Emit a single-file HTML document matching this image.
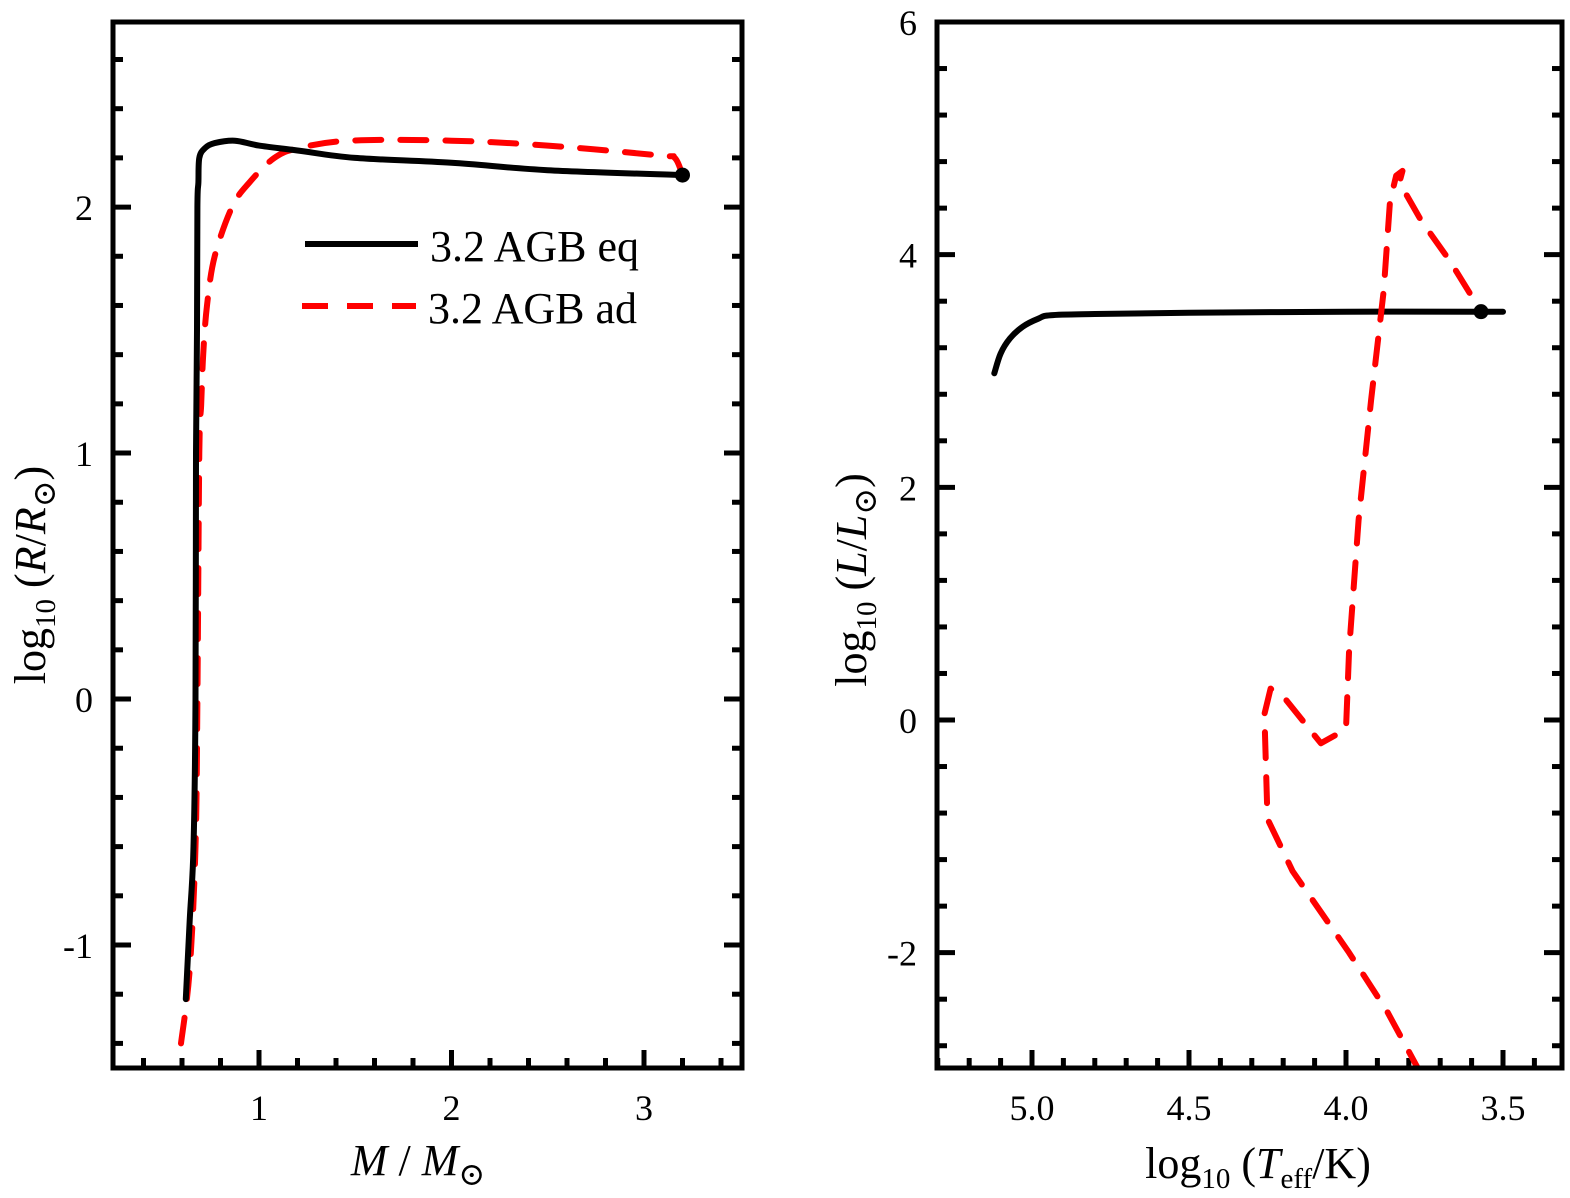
<!DOCTYPE html>
<html><head><meta charset="utf-8"><style>
html,body{margin:0;padding:0;background:#fff;}
svg{display:block;font-family:"Liberation Serif","DejaVu Serif",serif;}
</style></head><body>
<svg id="fig" width="1570" height="1198" viewBox="0 0 1570 1198">
<g id="left"></g>
<g id="right"></g>
<g>
  <line x1="305" y1="244" x2="418" y2="244" stroke="#000" stroke-width="6"/>
  <text x="430" y="261" font-size="44">3.2 AGB eq</text>
  <line x1="302" y1="306" x2="416" y2="306" stroke="#f00" stroke-width="6" stroke-dasharray="26,19"/>
  <text x="428" y="323" font-size="44">3.2 AGB ad</text>
</g>
<text x="418" y="1175" font-size="44" text-anchor="middle"><tspan font-style="italic">M</tspan> / <tspan font-style="italic">M</tspan><tspan font-size="32" dy="10">⊙</tspan></text>
<text transform="translate(45,575) rotate(-90)" font-size="44" text-anchor="middle">log<tspan font-size="29" dy="10">10</tspan><tspan dy="-10"> (</tspan><tspan font-style="italic">R</tspan>/<tspan font-style="italic">R</tspan><tspan font-size="32" dy="10">⊙</tspan><tspan dy="-10">)</tspan></text>
<text x="1258" y="1178" font-size="44" text-anchor="middle">log<tspan font-size="29" dy="10">10</tspan><tspan dy="-10"> (</tspan><tspan font-style="italic">T</tspan><tspan font-size="29" dy="10">eff</tspan><tspan dy="-10">/K)</tspan></text>
<text transform="translate(866,580) rotate(-90)" font-size="44" text-anchor="middle">log<tspan font-size="29" dy="10">10</tspan><tspan dy="-10"> (</tspan><tspan font-style="italic">L</tspan>/<tspan font-style="italic">L</tspan><tspan font-size="32" dy="10">⊙</tspan><tspan dy="-10">)</tspan></text>
</svg>
<script>
// ---- Left panel data ----
const leftEqMass = [0.62,0.64,0.66,0.67,0.673,0.678,0.68,0.685,0.69,0.72,0.77,0.875,1.0,1.2,1.5,2.0,2.5,3.2];
const leftEqLogR = [-1.22,-0.9,-0.6,0.0,1.0,1.5,2.0,2.1,2.2,2.24,2.26,2.27,2.25,2.23,2.2,2.18,2.15,2.13];
const leftAdMass = [0.595,0.64,0.67,0.68,0.69,0.70,0.71,0.73,0.77,0.86,0.95,1.08,1.21,1.47,2.0,2.5,3.08,3.16,3.2];
const leftAdLogR = [-1.40,-1.1,-0.6,0.0,1.0,1.2,1.4,1.6,1.8,2.0,2.1,2.2,2.24,2.27,2.27,2.25,2.21,2.2,2.13];
const leftXTicks = ["1","2","3"];
const leftYTicks = ["-1","0","1","2"];
// ---- Right panel data ----
const rightEqLogT = [5.12,5.10,5.07,5.03,4.98,4.94,4.8,4.5,4.0,3.57,3.50];
const rightEqLogL = [2.98,3.15,3.28,3.38,3.45,3.48,3.49,3.5,3.51,3.51,3.51];
const rightAdLogT = [3.76,3.87,3.99,4.17,4.25,4.26,4.24,4.19,4.08,4.00,3.99,3.96,3.92,3.88,3.86,3.84,3.82,3.83,3.76,3.67,3.59,3.57];
const rightAdLogL = [-3.05,-2.5,-2.0,-1.3,-0.85,0.05,0.27,0.17,-0.2,-0.08,0.6,1.72,2.75,3.69,4.46,4.68,4.72,4.62,4.29,3.95,3.6,3.51];
const rightXTicks = ["5.0","4.5","4.0","3.5"];
const rightYTicks = ["-2","0","2","4","6"];

const NS="http://www.w3.org/2000/svg";
function mk(tag,attrs,parent){const e=document.createElementNS(NS,tag);for(const k in attrs)e.setAttribute(k,attrs[k]);parent.appendChild(e);return e;}
function smoothPath(P){
  let d="M"+P[0][0].toFixed(1)+","+P[0][1].toFixed(1);
  for(let i=0;i<P.length-1;i++){
    const p0=P[Math.max(0,i-1)],p1=P[i],p2=P[i+1],p3=P[Math.min(P.length-1,i+2)];
    const c1=[p1[0]+(p2[0]-p0[0])/6,p1[1]+(p2[1]-p0[1])/6];
    const c2=[p2[0]-(p3[0]-p1[0])/6,p2[1]-(p3[1]-p1[1])/6];
    d+="C"+c1.map(v=>v.toFixed(1)).join(",")+" "+c2.map(v=>v.toFixed(1)).join(",")+" "+p2.map(v=>v.toFixed(1)).join(",");
  }
  return d;
}
function panel(g,box,xd,yd,opts){
  const sx=v=>box.x0+(v-xd[0])/(xd[1]-xd[0])*(box.x1-box.x0);
  const sy=v=>box.y1-(v-yd[0])/(yd[1]-yd[0])*(box.y1-box.y0);
  const clipId=opts.id+"-clip";
  const cp=mk("clipPath",{id:clipId},g);
  mk("rect",{x:box.x0,y:box.y0,width:box.x1-box.x0,height:box.y1-box.y0},cp);
  const eps=1e-6;
  const xlo=Math.min(xd[0],xd[1]),xhi=Math.max(xd[0],xd[1]);
  for(let i=Math.ceil(xlo/opts.xminor-eps);i*opts.xminor<=xhi+eps;i++){
    const v=i*opts.xminor;const major=Math.abs(v/opts.xmajor-Math.round(v/opts.xmajor))<1e-6;
    const L=major?18:10;const x=sx(v);
    let t=mk("line",{x1:x,y1:box.y1,x2:x,y2:box.y1-L,stroke:"#000","stroke-width":5},g);
    
    
  }
  for(let i=Math.ceil(yd[0]/opts.yminor-eps);i*opts.yminor<=yd[1]+eps;i++){
    const v=i*opts.yminor;const major=Math.abs(v/opts.ymajor-Math.round(v/opts.ymajor))<1e-6;
    const L=major?18:10;const y=sy(v);
    let a=mk("line",{x1:box.x0,y1:y,x2:box.x0+L,y2:y,stroke:"#000","stroke-width":5},g);
    
    
    let b=mk("line",{x1:box.x1,y1:y,x2:box.x1-L,y2:y,stroke:"#000","stroke-width":5},g);
    
    
  }
  opts.xlabels.forEach(s=>{const t=mk("text",{x:sx(parseFloat(s)),y:box.y1+52,"font-size":36,"text-anchor":"middle"},g);t.textContent=s;
    
    });
  opts.ylabels.forEach(s=>{const t=mk("text",{x:box.x0-20,y:sy(parseFloat(s))+13,"font-size":36,"text-anchor":"end"},g);t.textContent=s;
    
    });
  const cg=mk("g",{"clip-path":"url(#"+clipId+")"},g);
  opts.series.forEach(s=>{
    const P=s.x.map((v,i)=>[sx(v),sy(s.y[i])]);
    const d=s.smooth?smoothPath(P):P.map((p,i)=>(i?"L":"M")+p[0].toFixed(1)+","+p[1].toFixed(1)).join("");
    const p=mk("path",{d:d,fill:"none",stroke:s.color,"stroke-width":6,"stroke-linejoin":"round","stroke-linecap":"round"},cg);
    if(s.dash)p.setAttribute("stroke-dasharray",s.dash);
    
    
  });
  const dot=opts.dot;
  const c=mk("circle",{cx:sx(dot[0]),cy:sy(dot[1]),r:7.5,fill:"#000"},g);
  
  
  const fr=mk("rect",{x:box.x0,y:box.y0,width:box.x1-box.x0,height:box.y1-box.y0,fill:"none",stroke:"#000","stroke-width":5},g);
  
  
}
panel(document.getElementById("left"),{x0:113,x1:742,y0:22,y1:1068},[0.2416,3.5091],[-1.5,2.7524],
  {id:"L",xminor:0.2,xmajor:1,yminor:0.2,ymajor:1,xlabels:leftXTicks,ylabels:leftYTicks,dot:[3.2,2.13],
   series:[{x:leftAdMass,y:leftAdLogR,color:"#f00",dash:"26,19",name:"series-ad-radius",smooth:true},{x:leftEqMass,y:leftEqLogR,color:"#000",name:"series-eq-radius",smooth:true}]});
panel(document.getElementById("right"),{x0:937,x1:1562,y0:22,y1:1068},[5.3025,3.3121],[-2.9914,6],
  {id:"R",xminor:0.1,xmajor:0.5,yminor:0.4,ymajor:2,xlabels:rightXTicks,ylabels:rightYTicks,dot:[3.57,3.51],
   series:[{x:rightEqLogT,y:rightEqLogL,color:"#000",name:"series-eq-hr",smooth:true},{x:rightAdLogT,y:rightAdLogL,color:"#f00",dash:"26,19",name:"series-ad-hr"}]});
</script>
</body></html>
